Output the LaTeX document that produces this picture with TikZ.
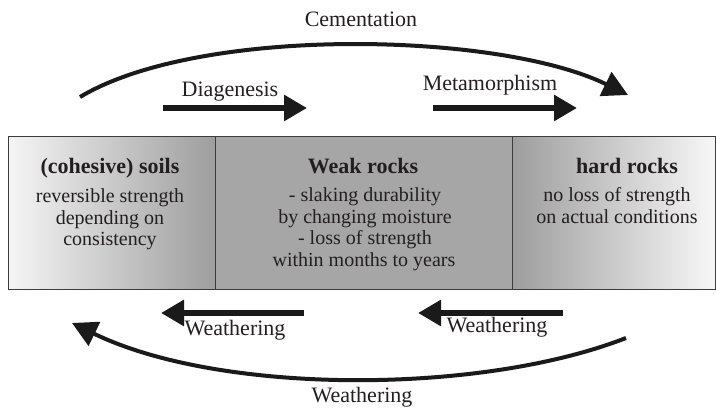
\documentclass[tikz,border=0pt]{standalone}
\usepackage{fontspec}
\setmainfont{Liberation Serif}
\usetikzlibrary{arrows.meta}
\definecolor{txt}{HTML}{231F20}
\definecolor{boxgray}{HTML}{A6A6A6}
\definecolor{edgecol}{HTML}{3C3C3C}
\definecolor{arrowcol}{HTML}{1A1A1A}
\begin{document}
\begin{tikzpicture}[x=1pt,y=-1pt,
  title/.style={font=\fontsize{22}{22}\selectfont\bfseries, text=txt, anchor=base, inner sep=0},
  body/.style={font=\fontsize{20}{20}\selectfont, text=txt, anchor=base, inner sep=0},
  lab/.style={font=\fontsize{22}{22}\selectfont, text=txt, anchor=base, inner sep=0},
  bigarrow/.style={draw=arrowcol, line width=4pt, -{Triangle[length=25pt,width=26pt]}},
  flatarrow/.style={draw=arrowcol, line width=6pt, -{Triangle[length=23pt,width=25pt]}},
  zone/.style={draw=edgecol, line width=0.8pt, minimum height=153pt, inner sep=0, anchor=north west}]
\useasboundingbox (0,0) rectangle (716,411);
% zones
\node[zone, minimum width=207pt, left color=white!96!black, right color=boxgray!95!black] (soil) at (8,136) {};
\node[zone, minimum width=297pt, fill=boxgray] (weak) at (215,136) {};
\node[zone, minimum width=203pt, left color=boxgray!95!black, right color=white!97!black] (hard) at (512,136) {};
% texts
\node[title] (t1) at (110,174) {(cohesive) soils};
\node[body] (b11) at (110,203) {reversible strength};
\node[body] (b12) at (110,225) {depending on};
\node[body] (b13) at (110,246) {consistency};
\node[title] (t2) at (363,174) {Weak rocks};
\node[body] (b21) at (365,202) {- slaking durability};
\node[body] (b22) at (365,224) {by changing moisture};
\node[body] (b23) at (365,245) {- loss of strength};
\node[body] (b24) at (364,267) {within months to years};
\node[title] (t3) at (627,174) {hard rocks};
\node[body] (b31) at (617,202) {no loss of strength};
\node[body] (b32) at (617,224) {on actual conditions};
% top arrows
\coordinate (cemS) at (80,97);
\coordinate (cemE) at (628,95);
\draw[bigarrow] (cemS) .. controls (200,25) and (500,32) .. (cemE);
\node[lab] (cem) at (361,27) {Cementation};
\coordinate (diaS) at (163,108);
\coordinate (diaE) at (307,108);
\draw[flatarrow] (diaS) -- (diaE);
\node[lab] (dia) at (230,97) {Diagenesis};
\coordinate (metS) at (433,108);
\coordinate (metE) at (577,108);
\draw[flatarrow] (metS) -- (metE);
\node[lab] (met) at (490,91) {Metamorphism};
% bottom arrows
\coordinate (w1S) at (304,313);
\coordinate (w1E) at (161,313);
\draw[flatarrow] (w1S) -- (w1E);
\node[lab] (w1) at (235,336) {Weathering};
\coordinate (w2S) at (563,313);
\coordinate (w2E) at (418,313);
\draw[flatarrow] (w2S) -- (w2E);
\node[lab] (w2) at (497,333) {Weathering};
\coordinate (w3S) at (626,338);
\coordinate (w3E) at (72,323);
\draw[bigarrow] (w3S) .. controls (480,395) and (220,395) .. (w3E);
\node[lab] (w3) at (362,403) {Weathering};
\end{tikzpicture}
\end{document}
